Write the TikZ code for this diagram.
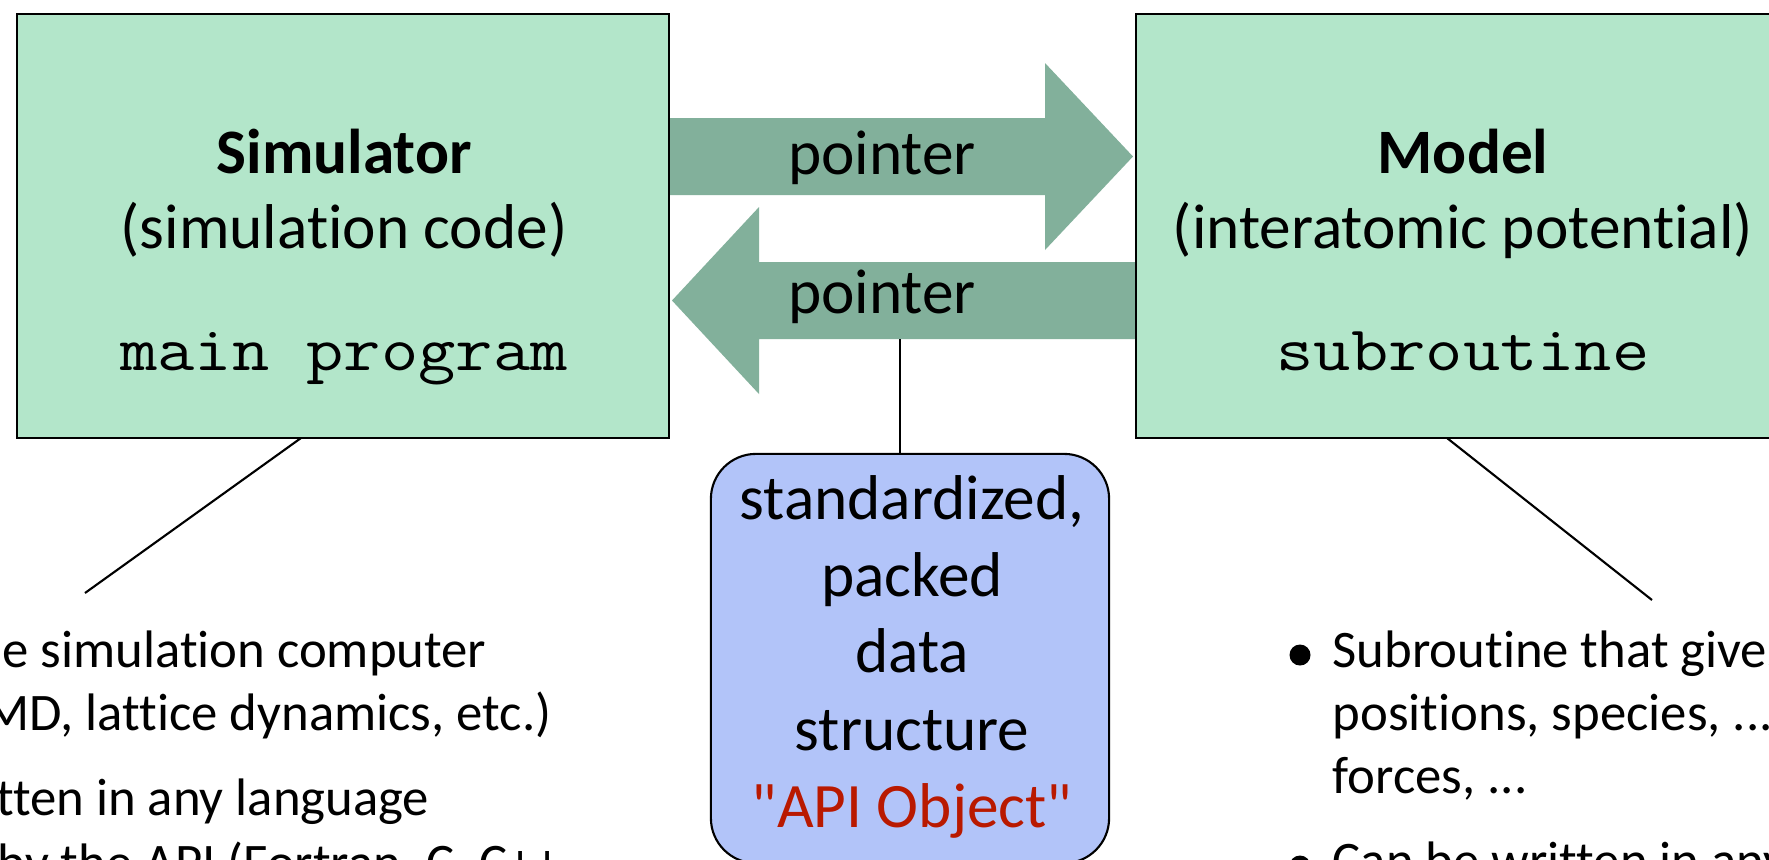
\documentclass[tikz,border=0pt]{standalone}
\usepackage{fontspec}
\setmainfont{Carlito}[Ligatures={TeXOff,NoCommon}]
\usepackage{graphicx}
\usetikzlibrary{calc,backgrounds}
\definecolor{boxgreen}{RGB}{179,230,202}
\definecolor{arrowgreen}{RGB}{130,176,155}
\definecolor{apiblue}{RGB}{178,196,249}
\definecolor{apired}{RGB}{185,25,0}
\newcommand{\bigf}{\fontsize{18}{21.6}\selectfont}
\newcommand{\smallf}{\fontsize{15}{18}\selectfont}
\newcommand{\codef}[1]{\scalebox{1.143}[1]{\fontsize{18}{21.6}\selectfont\ttfamily #1}}
\tikzset{
  mainbox/.style={draw=black, line width=0.6pt, fill=boxgreen, minimum width=6.52cm, minimum height=4.24cm, inner sep=0pt, outer sep=0pt},
  apibox/.style={draw=black, line width=0.6pt, fill=apiblue, rounded corners=0.45cm, minimum width=3.98cm, minimum height=4.09cm, inner sep=0pt, outer sep=0pt},
  txt/.style={anchor=base, inner sep=0pt, font=\bigf},
  btxt/.style={anchor=base west, inner sep=0pt, font=\smallf},
  ltxt/.style={anchor=base east, inner sep=0pt, font=\smallf},
  blockarrow/.style={fill=arrowgreen},
  conn/.style={draw=black, line width=0.6pt},
  bulletdot/.style={circle, fill=black, inner sep=0pt, minimum size=0.21cm}
}
\begin{document}
\begin{tikzpicture}[x=0.01cm,y=-0.01cm]
\useasboundingbox (0,0) rectangle (1769,859);
\clip (0,0) rectangle (1769,859);

% main boxes
\node[mainbox] (sim) at (343,226) {};
\node[mainbox] (model) at (1462,226) {};

% block arrows (connectors between the boxes)
\coordinate (utip) at (1133,156.5);
\coordinate (ltip) at (672,300.5);
\begin{scope}[on background layer]
\fill[white] (0,0) rectangle (1769,859);
\fill[blockarrow] (sim.east |- 0,118) -- (1045,118) -- (1045,63) -- (utip)
  -- (1045,250) -- (1045,195) -- (sim.east |- 0,195) -- cycle;
\fill[blockarrow] (model.west |- 0,262) -- (759,262) -- (759,207) -- (ltip)
  -- (759,394) -- (759,339) -- (model.west |- 0,339) -- cycle;
\end{scope}
\node[txt] (p1) at (882,174) {pointer};
\node[txt] (p2) at (882,313) {pointer};

% box texts
\node[txt] (simt1) at (344,173) {\textbf{Simulator}};
\node[txt] (simt2) at (344,248) {(simulation code)};
\node[txt] (simt3) at (344,370) {\codef{main program}};
\node[txt] (modt1) at (1463,173) {\textbf{Model}};
\node[txt] (modt2) at (1463,248) {(interatomic potential)};
\node[txt] (modt3) at (1463,370) {\codef{subroutine}};

% API object
\node[apibox] (api) at (910,658.5) {};
\node[txt] (a1) at (912,519) {standardized,};
\node[txt] (a2) at (912,596) {packed};
\node[txt] (a3) at (912,672) {data};
\node[txt] (a4) at (912,750) {structure};
\node[txt, text=apired] (a5) at (912,827) {"API Object"};
\coordinate (vt) at (900,339);
\draw[conn] (vt) -- (vt |- api.north);

% callout lines
\coordinate (simfoot) at (301,438);
\coordinate (lend) at (85,593);
\draw[conn] (simfoot) -- (lend);
\coordinate (modfoot) at (1447,438);
\coordinate (rend) at (1652,600);
\draw[conn] (modfoot) -- (rend);

% left bullets (cut by the left edge)
\node[ltxt] (l1) at (487,667) {e simulation computer};
\node[ltxt] (l2) at (552,730) {MD, lattice dynamics, etc.)};
\node[ltxt] (l3) at (430,815) {tten in any language};
\node[ltxt] (l4) at (561,880) {by the API (Fortran, C, C++};

% right bullets (cut by the right edge)
\node[bulletdot] (b1) at (1300,655) {};
\node[btxt] (r1) at (1332,667) {Subroutine that gives};
\node[btxt] (r2) at (1332,730) {positions, species, ...};
\node[btxt] (r3) at (1332,793) {forces, ...};
\node[bulletdot] (b2) at (1300,866) {};
\node[btxt] (r4) at (1332,878) {Can be written in any};
\end{tikzpicture}
\end{document}
